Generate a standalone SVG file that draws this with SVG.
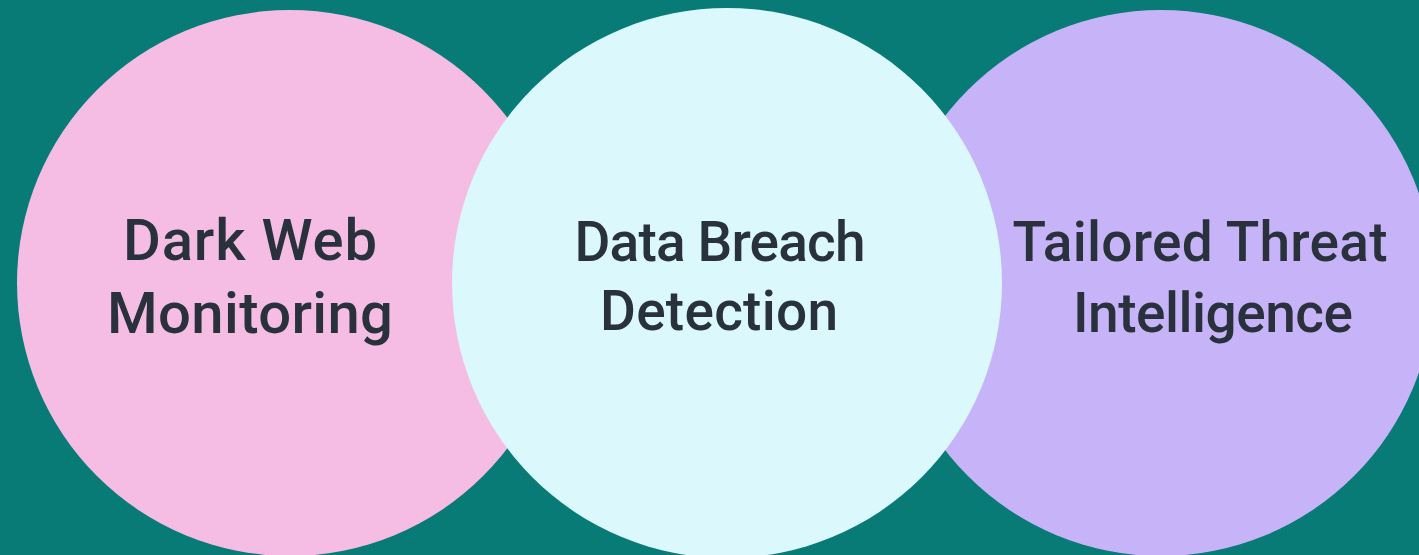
<svg xmlns="http://www.w3.org/2000/svg" width="1419" height="555" viewBox="0 0 1419 555">
  <style>
    .label { font-family: Roboto, "Noto Sans", "Liberation Sans", sans-serif; font-weight: 500; font-size: 55px; fill: #29323c; text-anchor: middle; }
    .label.big { font-size: 58px; }
  </style>
  <rect width="1419" height="555" fill="#087b76"/>
  <g id="node-dark-web">
    <circle cx="290" cy="283" r="273" fill="#f5bde3"/>
    <text class="label big" x="250" y="260" textLength="254" lengthAdjust="spacing">Dark Web</text>
    <text class="label big" x="250" y="333" textLength="286" lengthAdjust="spacing">Monitoring</text>
  </g>
  <g id="node-threat-intel">
    <circle cx="1161" cy="283" r="273" fill="#c7b3f8"/>
    <text class="label" x="1200" y="261" textLength="375" lengthAdjust="spacing">Tailored Threat</text>
    <text class="label" x="1213" y="332" textLength="280" lengthAdjust="spacing">Intelligence</text>
  </g>
  <g id="node-breach">
    <circle cx="727" cy="283" r="275" fill="#dbf8fd"/>
    <text class="label" x="720" y="261" textLength="291" lengthAdjust="spacing">Data Breach</text>
    <text class="label" x="719" y="330" textLength="238" lengthAdjust="spacing">Detection</text>
  </g>
  <g id="connectors"/>
</svg>
